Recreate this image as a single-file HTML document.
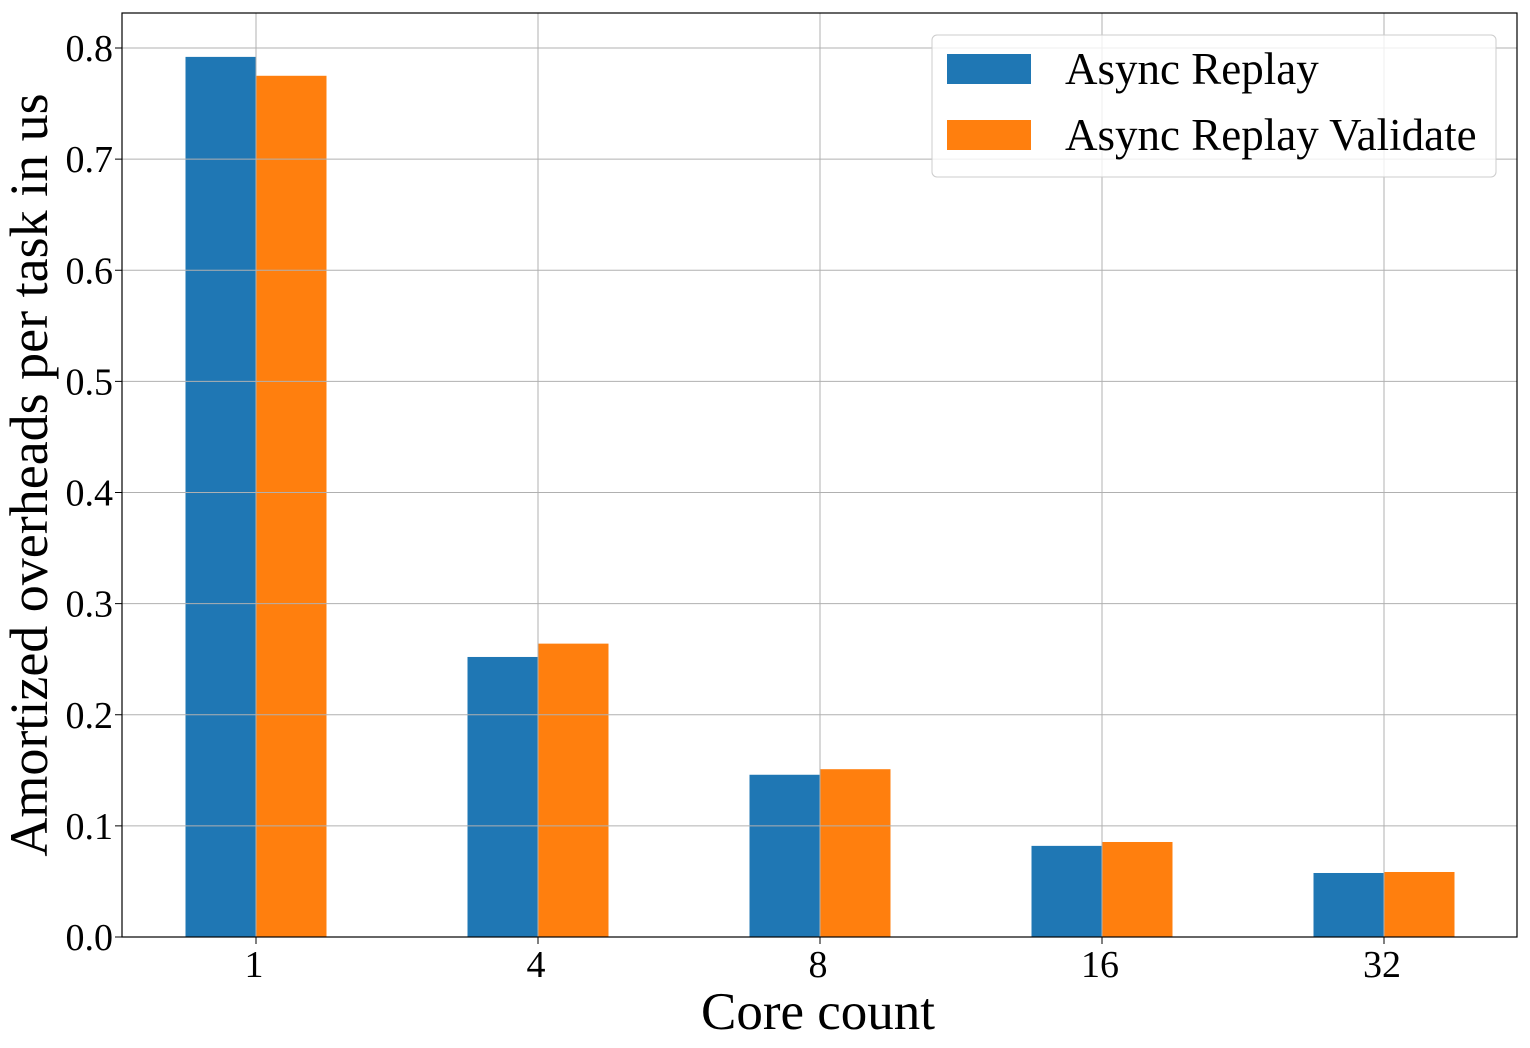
<!DOCTYPE html>
<html><head><meta charset="utf-8"><style>
body{margin:0;background:#fff;}
svg{display:block;font-family:"Liberation Serif",serif;}
</style></head><body>
<svg id="chart" width="1530" height="1048"></svg>
<script>
const categories=["1","4","8","16","32"];
const asyncReplay=[0.792,0.252,0.146,0.082,0.0576];
const asyncReplayValidate=[0.775,0.264,0.151,0.0855,0.0585];
const yTicks=[0.0,0.1,0.2,0.3,0.4,0.5,0.6,0.7,0.8];

const NS="http://www.w3.org/2000/svg";
const svg=document.getElementById('chart');
const L=122,R=1517,T=13,B=937;
const y=v=>B-v*(889/0.8);
const xc=i=>256+i*282;
const bw=70.5;
function mk(tag,attrs,parent){const e=document.createElementNS(NS,tag);for(const k in attrs)e.setAttribute(k,attrs[k]);(parent||svg).appendChild(e);return e;}

const bars=mk('g',{});


categories.forEach((c,i)=>{
  const b1=mk('rect',{x:xc(i)-bw,y:y(asyncReplay[i]),width:bw,height:B-y(asyncReplay[i]),fill:'#1f77b4'},bars);
  
  
  const b2=mk('rect',{x:xc(i),y:y(asyncReplayValidate[i]),width:bw,height:B-y(asyncReplayValidate[i]),fill:'#ff7f0e'},bars);
  
  
});

const grid=mk('g',{stroke:'#b0b0b0','stroke-width':1});


yTicks.forEach(t=>{mk('line',{x1:L,x2:R,y1:y(t),y2:y(t)},grid);});
categories.forEach((c,i)=>{mk('line',{x1:xc(i),x2:xc(i),y1:T,y2:B},grid);});

const frame=mk('rect',{x:L,y:T,width:R-L,height:B-T,fill:'none',stroke:'#000','stroke-width':1.2});



yTicks.forEach(t=>{
  mk('line',{x1:L-7,x2:L,y1:y(t),y2:y(t),stroke:'#000'});
  const tx=mk('text',{x:L-9,y:y(t)+13,'text-anchor':'end','font-size':38});
  tx.textContent=t.toFixed(1);
  
  
});
categories.forEach((c,i)=>{
  mk('line',{x1:xc(i),x2:xc(i),y1:B,y2:B+7,stroke:'#000'});
  const tx=mk('text',{x:xc(i)-2,y:B+40,'text-anchor':'middle','font-size':38});
  tx.textContent=c;
  
  
});
const xl=mk('text',{x:818,y:1029,'text-anchor':'middle','font-size':53});
xl.textContent='Core count';


const yl=mk('text',{x:0,y:0,'text-anchor':'middle','font-size':54,transform:'translate(47,475) rotate(-90)'});
yl.textContent='Amortized overheads per task in us';



const lg=mk('g',{});


mk('rect',{x:932,y:35,width:564,height:142,rx:5,fill:'#fff','fill-opacity':0.8,stroke:'#ccc'},lg);
[['Async Replay','#1f77b4',54],['Async Replay Validate','#ff7f0e',120]].forEach(([name,col,yy])=>{
  const e=mk('g',{},lg);
  
  
  mk('rect',{x:947,y:yy,width:84,height:30,fill:col},e);
  const t=mk('text',{x:1065,y:yy+30,'font-size':45},e);
  t.textContent=name;
});
</script>
</body></html>
